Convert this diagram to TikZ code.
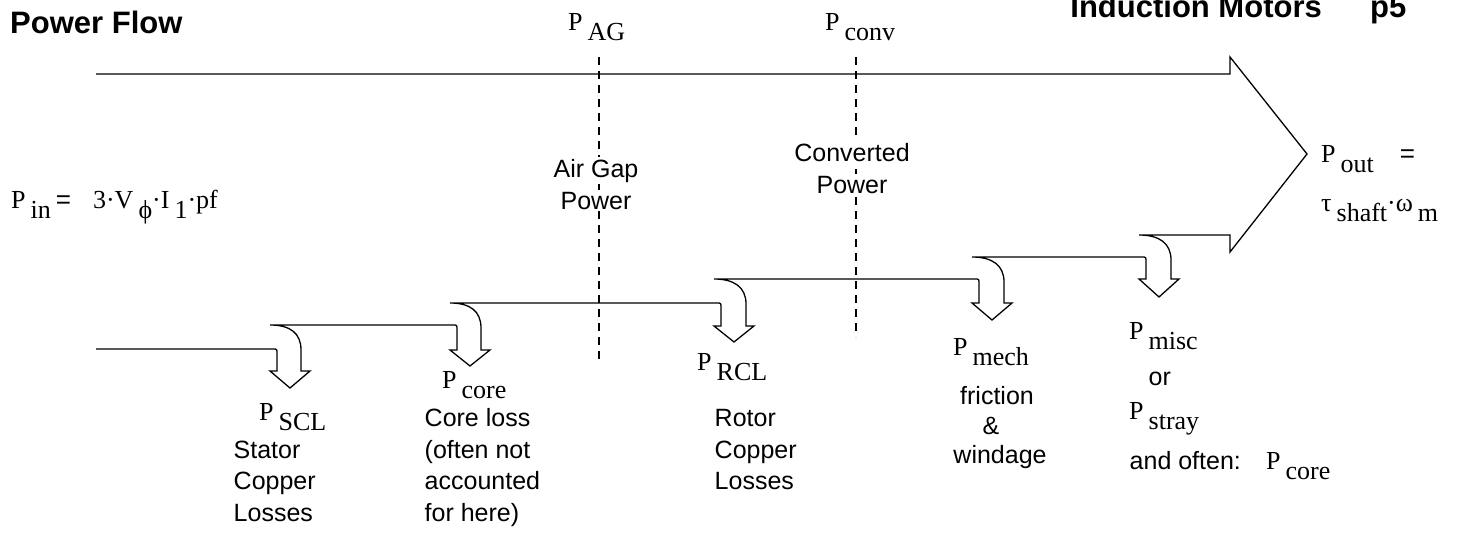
\documentclass[tikz,border=0pt]{standalone}
\usepackage{fontspec}
\setmainfont{Liberation Serif}
\setsansfont{Liberation Sans}
\newfontfamily\arialf{Liberation Sans}
\newcommand{\sansL}{\arialf\fontsize{25}{32}\selectfont}
\newcommand{\serL}{\rmfamily\fontsize{26}{30}\selectfont}
\newcommand{\titleL}{\arialf\bfseries\fontsize{31}{36}\selectfont}
\newcommand{\subsc}[1]{\kern5pt\raisebox{-10pt}{#1}}
\begin{document}
\begin{tikzpicture}[x=1pt,y=-1pt,
  flow/.style={line width=1.3pt, line join=miter},
  divider/.style={line width=1.1pt, dash pattern=on 8pt off 6pt},
  sl/.style={font=\sansL, inner sep=1.5pt, anchor=base west, fill=white},
  slc/.style={font=\sansL, inner sep=1.5pt, anchor=base, fill=white},
  sr/.style={font=\serL, inner sep=1pt, anchor=base west},
  ttl/.style={font=\titleL, inner sep=0pt}]
\useasboundingbox (0,0) rectangle (1458,533);

% dividers
\draw[divider] (599,57) -- (599,362);
\draw[divider] (856,57) -- (856,337);

% power flow band
\draw[flow] (96,349)
 -- (273,349) .. controls (277,349) .. (277,354) -- (277,371) -- (270,371) -- (290,388) -- (310,371) -- (301,371) -- (301,350) .. controls (301,333) and (290,325) .. (270,325)
 -- (453,325) .. controls (457,325) .. (457,330) -- (457,350) -- (450,350) -- (470,366) -- (490,350) -- (481,350) -- (481,328) .. controls (481,311) and (470,303) .. (450,303)
 -- (717,303) .. controls (721,303) .. (721,308) -- (721,326) -- (714,326) -- (734,342) -- (754,326) -- (746,326) -- (746,304) .. controls (746,287) and (734,279) .. (714,279)
 -- (975,279) .. controls (979,279) .. (979,284) -- (979,303) -- (972,303) -- (992,320) -- (1012,303) -- (1004,303) -- (1004,282) .. controls (1004,265) and (992,257) .. (972,257)
 -- (1142,257) .. controls (1146,257) .. (1146,262) -- (1146,279) -- (1139,279) -- (1159,297) -- (1179,279) -- (1171,279) -- (1171,260) .. controls (1171,243) and (1159,235) .. (1139,235)
 -- (1230,235) -- (1230,252) -- (1307,154) -- (1230,57) -- (1230,74) -- (96,74);

% titles
\node[ttl, anchor=base west] (title) at (10,33) {Power Flow};
\node[ttl, anchor=base east] (chap) at (1322,17) {Induction Motors};
\node[ttl, anchor=base west] (page) at (1370,17) {p5};

% divider labels
\node[sr] (pag) at (567,30) {P\subsc{AG}};
\node[sr] (pconv) at (824,30) {P\subsc{conv}};
\node[slc] (ag1) at (596,177) {Air Gap};
\node[slc] (ag2) at (596,209) {Power};
\node[slc] (cv1) at (852,161) {Converted};
\node[slc] (cv2) at (852,193) {Power};

% input / output
\node[sr] (pin) at (10,208) {P\subsc{in}\kern5pt{\arialf =}\kern22pt 3·V\subsc{ϕ}·I\subsc{1}·pf};
\node[sr] (pout) at (1320,162) {P\subsc{out}\kern26pt{\arialf =}};
\node[sr] (tau) at (1320,211) {τ\subsc{shaft}·ω\subsc{m}};

% losses
\node[sr] (pscl) at (258,420) {P\subsc{SCL}};
\node[sl] (s1) at (232,458) {Stator};
\node[sl] (s2) at (232,489.5) {Copper};
\node[sl] (s3) at (232,521) {Losses};

\node[sr] (pcore) at (441,388) {P\subsc{core}};
\node[sl] (c1) at (423,426.5) {Core loss};
\node[sl] (c2) at (423,458) {(often not};
\node[sl] (c3) at (423,489.5) {accounted};
\node[sl] (c4) at (423,521) {for here)};

\node[sr] (prcl) at (696,370) {P\subsc{RCL}};
\node[sl] (r1) at (713,426.5) {Rotor};
\node[sl] (r2) at (713,458) {Copper};
\node[sl] (r3) at (713,489.5) {Losses};

\node[sr] (pmech) at (952,355) {P\subsc{mech}};
\node[slc] (m1) at (997,404) {friction};
\node[slc] (m2) at (991,434) {\&};
\node[slc] (m3) at (1000,463) {windage};

\node[sr] (pmisc) at (1128,339) {P\subsc{misc}};
\node[sl] (or) at (1147,385) {or};
\node[sr] (pstray) at (1128,419) {P\subsc{stray}};
\node[sl] (often) at (1128,469) {and often:};
\node[sr] (pcore2) at (1265,469) {P\subsc{core}};
\end{tikzpicture}
\end{document}
